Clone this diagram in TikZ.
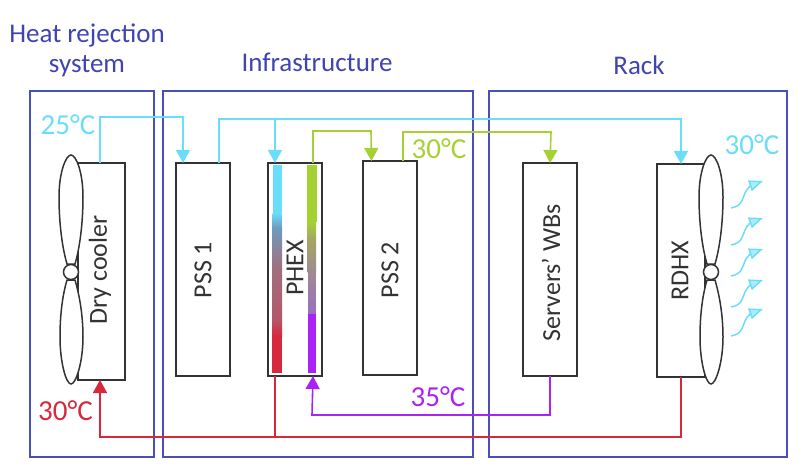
\documentclass[tikz,border=0pt]{standalone}
\usepackage{fontspec}
\setmainfont{Carlito}
\usetikzlibrary{arrows.meta,calc}
\definecolor{framec}{HTML}{4A4FB8}
\definecolor{cyanc}{HTML}{6ADDFB}
\definecolor{greenc}{HTML}{A4D233}
\definecolor{purplec}{HTML}{AA22F5}
\definecolor{redc}{HTML}{D8283C}
\definecolor{inkc}{HTML}{333333}
\definecolor{labelc}{HTML}{3F44B0}
\definecolor{lmida}{HTML}{6E9BBE}
\definecolor{lmidb}{HTML}{A0707F}
\definecolor{lmidc}{HTML}{B5566A}
\definecolor{rmida}{HTML}{A5A860}
\definecolor{rmidb}{HTML}{A08A90}
\definecolor{rmidc}{HTML}{9A6FC0}
\tikzset{
  frame/.style={draw=framec,line width=1.6pt,minimum height=366pt,inner sep=0pt,outer sep=0pt,anchor=north west},
  unit/.style={draw=inkc,line width=1.8pt,inner sep=0pt,outer sep=0pt,anchor=north west,minimum width=54pt,minimum height=213pt},
  unitlabel/.style={text=inkc,rotate=90,font=\fontsize{26}{27}\selectfont},
  head/.style={text=labelc,align=center,font=\fontsize{27}{30}\selectfont},
  temp/.style={font=\fontsize{29}{30}\selectfont},
  pipe/.style={line width=1.6pt},
  tip/.style={-{Triangle[width=14pt,length=13pt]}},
  blade/.style={draw=inkc,line width=1.5pt,fill=white},
  hub/.style={draw=inkc,line width=1.5pt,fill=white,circle,minimum size=15pt,inner sep=0pt},
  puff/.style={cyanc,line width=1.5pt,-{Triangle[width=11pt,length=14pt,fill=cyanc!55]}},
}
\newcommand{\fan}[2]{%
  \path[blade] (#1,#2-117) .. controls (#1+5,#2-117) and (#1+12,#2-100) .. (#1+12,#2-75) .. controls (#1+12,#2-50) and (#1+9,#2-25) .. (#1+4,#2-8) -- (#1-4,#2-8) .. controls (#1-9,#2-25) and (#1-12,#2-50) .. (#1-12,#2-75) .. controls (#1-12,#2-100) and (#1-5,#2-117) .. (#1,#2-117) -- cycle;
  \path[blade] (#1-4,#2+8) .. controls (#1-9,#2+25) and (#1-11,#2+45) .. (#1-11,#2+65) .. controls (#1-11,#2+90) and (#1-5,#2+112) .. (#1,#2+112) .. controls (#1+5,#2+112) and (#1+12,#2+90) .. (#1+12,#2+65) .. controls (#1+12,#2+45) and (#1+9,#2+25) .. (#1+4,#2+8) -- cycle;
}
\begin{document}
\begin{tikzpicture}[x=1pt,y=-1pt]
\useasboundingbox (0,0) rectangle (800,473);
% frames
\node[frame,minimum width=124pt] (fheat) at (30,91) {};
\node[frame,minimum width=310pt] (finfra) at (163,91) {};
\node[frame,minimum width=298pt] (frack) at (489,91) {};
% headings
\node[head] (theat) at (87,50) {Heat rejection\\system};
\node[head] (tinfra) at (317,62) {Infrastructure};
\node[head] (track) at (639,65) {Rack};
% units
\node[unit,minimum width=47pt,minimum height=217pt] (dry) at (78,163) {};
\node[unit] (pss1) at (176,163) {};
\node[unit] (phex) at (268,163) {};
\node[unit,minimum height=214pt] (pss2) at (363,161) {};
\node[unit] (serv) at (523,163) {};
\node[unit,minimum width=48pt] (rdhx) at (657,164) {};
% strips
\fill[cyanc] (272.5,165) rectangle (281.5,213);
\shade[top color=cyanc,bottom color=lmida] (272.5,213) rectangle (281.5,228);
\shade[top color=lmida,bottom color=lmidb] (272,228) rectangle (282,268);
\shade[top color=lmidb,bottom color=lmidc] (272,268) rectangle (282,320);
\shade[top color=lmidc,bottom color=redc] (272,320) rectangle (282,336);
\fill[redc] (272,336) rectangle (282,373);
\fill[greenc] (307,165) rectangle (317,222);
\shade[top color=greenc,bottom color=rmida] (307,222) rectangle (316,238);
\shade[top color=rmida,bottom color=rmidb] (307.5,238) rectangle (316,272);
\shade[top color=rmidb,bottom color=rmidc] (308,272) rectangle (315.5,314);
\fill[purplec] (308,314) rectangle (315.5,373);
% fans
\fan{71}{272}
\node[hub] (hubdry) at (71,272) {};
\fan{711}{272}
\node[hub] (hubrack) at (711,272) {};
% unit labels
\node[unitlabel] (ldry) at (100,270) {Dry cooler};
\node[unitlabel] (lpss1) at (203,270) {PSS 1};
\node[unitlabel] (lphex) at (295,268) {PHEX};
\node[unitlabel] (lpss2) at (390,270) {PSS 2};
\node[unitlabel] (lserv) at (551,273) {Servers' WBs};
\node[unitlabel] (lrdhx) at (680,271) {RDHX};
% temperatures
\node[temp,text=cyanc] (t25) at (68,125) {25°C};
\node[temp,text=cyanc] (t30r) at (752,145) {30°C};
\node[temp,text=greenc] (t30g) at (439,149) {30°C};
\node[temp,text=purplec] (t35) at (438,397) {35°C};
\node[temp,text=redc] (t30b) at (65.5,411) {30°C};
% cyan
\draw[pipe,cyanc,tip] ([xshift=-1.5pt]dry.north) |- (183,117) -- ([xshift=-20pt]pss1.north);
\draw[pipe,cyanc,tip] ([xshift=16pt]pss1.north) |- (681,119) -- (rdhx.north);
\draw[pipe,cyanc,tip] (275,119) -- ([xshift=-20pt]phex.north);
% green
\draw[pipe,greenc,tip] ([xshift=18pt]phex.north) |- (371,131) -- ([xshift=-18.5pt]pss2.north);
\draw[pipe,greenc,tip] ([xshift=13pt]pss2.north) |- (551,132) -- (serv.north);
% purple
\draw[pipe,purplec,tip] (serv.south) |- (312,415) -- ([xshift=18pt]phex.south);
% red
\draw[pipe,redc,tip] (rdhx.south) |- (100,437) -- ([xshift=-1.5pt]dry.south);
\draw[pipe,redc] ([xshift=-20pt]phex.south) -- (275,437);
% air puffs
\foreach \py in {208,245,276,307,336}{
  \draw[puff] (731,\py+0) .. controls (742,\py-2) and (742,\py-8) .. (745,\py-15) .. controls (747,\py-20) and (752,\py-23) .. (763,\py-27);
}
\end{tikzpicture}
\end{document}
